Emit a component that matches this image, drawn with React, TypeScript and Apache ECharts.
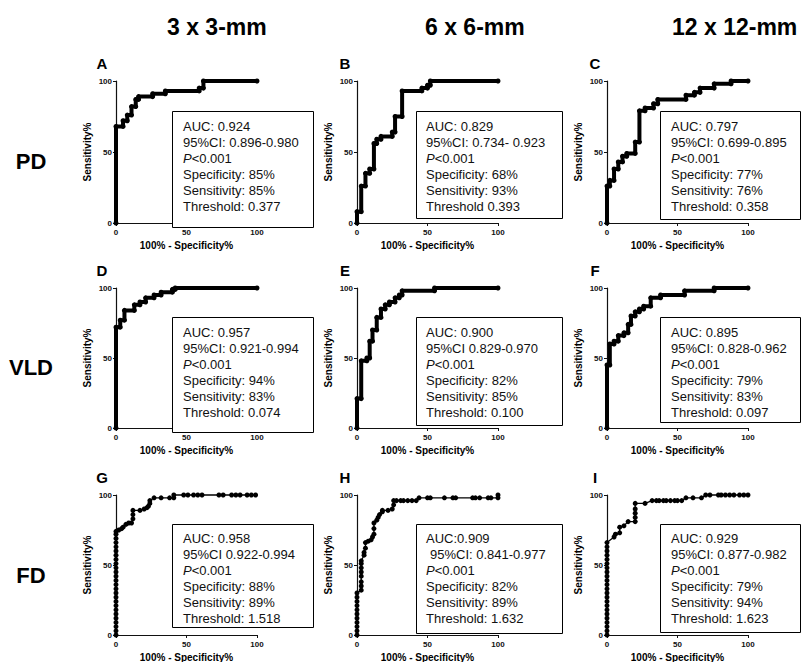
import React, { useEffect, useRef } from "react";
import * as echarts from "echarts";

const columnTitles = ["3 x 3-mm", "6 x 6-mm", "12 x 12-mm"];
const rowTitles = ["PD", "VLD", "FD"];
const panelLetters = ["A", "B", "C", "D", "E", "F", "G", "H", "I"];
const axisTickValues = [0, 50, 100];
const xAxisTitle = "100% - Specificity%";
const yAxisTitle = "Sensitivity%";

// ROC curves: [100% - Specificity%, Sensitivity%]
const rocA = [[0,0],[0,68],[5,68],[5,72],[8,72],[8,76],[11,76],[11,82],[14,82],[14,87],[16,87],[16,89],[26,89],[26,91],[35,91],[35,93],[59,93],[59,95],[62,95],[62,100],[100,100]];
const rocB = [[0,0],[0,8],[3,8],[3,26],[6,26],[6,35],[9,35],[9,38],[12,38],[12,56],[14,56],[14,59],[17,59],[17,61],[25,61],[25,64],[27,64],[27,75],[32,75],[32,93],[46,93],[46,95],[50,95],[50,97],[52,97],[52,100],[100,100]];
const rocC = [[0,0],[0,26],[2,26],[2,30],[5,30],[5,38],[8,38],[8,43],[11,43],[11,47],[14,47],[14,49],[20,49],[20,57],[23,57],[23,79],[27,79],[27,81],[33,81],[33,84],[36,84],[36,87],[56,87],[56,90],[62,90],[62,92],[66,92],[66,95],[76,95],[76,98],[88,98],[88,100],[100,100]];
const rocD = [[0,0],[0,72],[3,72],[3,77],[6,77],[6,84],[13,84],[13,88],[17,88],[17,90],[21,90],[21,93],[27,93],[27,95],[32,95],[32,97],[40,97],[40,99],[42,99],[42,100],[100,100]];
const rocE = [[0,0],[0,21],[3,21],[3,48],[7,48],[7,50],[9,50],[9,62],[11,62],[11,70],[14,70],[14,79],[17,79],[17,85],[20,85],[20,88],[23,88],[23,90],[27,90],[27,93],[30,93],[30,95],[32,95],[32,98],[55,98],[55,100],[100,100]];
const rocF = [[0,0],[0,45],[2,45],[2,60],[5,60],[5,62],[8,62],[8,66],[12,66],[12,68],[15,68],[15,74],[17,74],[17,80],[20,80],[20,83],[23,83],[23,85],[26,85],[26,87],[31,87],[31,93],[38,93],[38,95],[55,95],[55,98],[76,98],[76,100],[100,100]];
const rocG = [[0,0],[0,3],[0,6],[0,9],[0,12],[0,15],[0,18],[0,21],[0,24],[0,27],[0,30],[0,33],[0,36],[0,39],[0,42],[0,45],[0,48],[0,51],[0,54],[0,57],[0,60],[0,63],[0,66],[0,69],[0,72],[0,74],[2,75],[4,76],[5,77],[7,79],[9,80],[11,80],[12,83],[12,86],[12,89],[17,89],[20,90],[22,91],[23,92],[24,94],[24,96],[27,98],[32,98],[38,98],[41,98],[41,100],[48,100],[51,100],[55,100],[58,100],[61,100],[73,100],[76,100],[82,100],[85,100],[88,100],[93,100],[96,100],[99,100]];
const rocH = [[0,0],[0,3],[0,6],[0,9],[0,12],[0,15],[0,18],[0,21],[0,24],[0,27],[0,30],[3,32],[3,35],[3,38],[3,42],[3,45],[3,48],[3,51],[3,53],[5,57],[5,59],[6,62],[6,66],[8,67],[10,68],[11,70],[12,72],[12,76],[12,80],[14,82],[15,84],[16,86],[18,88],[18,89],[22,89],[25,90],[26,93],[26,96],[28,96],[31,96],[33,96],[36,96],[39,96],[42,96],[44,98],[50,98],[52,98],[62,98],[68,98],[70,98],[82,98],[84,98],[87,98],[93,98],[95,98],[100,98],[100,100]];
const rocI = [[0,0],[0,3],[0,6],[0,9],[0,12],[0,15],[0,18],[0,21],[0,24],[0,27],[0,30],[0,33],[0,36],[0,39],[0,42],[0,45],[0,48],[0,51],[0,54],[0,57],[0,60],[0,63],[0,66],[5,70],[6,72],[9,73],[9,77],[12,78],[15,81],[20,81],[20,84],[20,87],[20,90],[20,94],[27,94],[32,96],[35,96],[37,96],[40,96],[42,96],[45,96],[48,96],[50,96],[53,96],[56,98],[61,98],[67,98],[70,100],[73,100],[79,100],[81,100],[84,100],[87,100],[90,100],[94,100],[97,100],[100,100]];

const statsA = ["AUC: 0.924", "95%CI: 0.896-0.980", "P<0.001", "Specificity: 85%", "Sensitivity: 85%", "Threshold: 0.377"];
const statsB = ["AUC: 0.829", "95%CI: 0.734- 0.923", "P<0.001", "Specificity: 68%", "Sensitivity: 93%", "Threshold 0.393"];
const statsC = ["AUC: 0.797", "95%CI: 0.699-0.895", "P<0.001", "Specificity: 77%", "Sensitivity: 76%", "Threshold: 0.358"];
const statsD = ["AUC: 0.957", "95%CI: 0.921-0.994", "P<0.001", "Specificity: 94%", "Sensitivity: 83%", "Threshold: 0.074"];
const statsE = ["AUC: 0.900", "95%CI 0.829-0.970", "P<0.001", "Specificity: 82%", "Sensitivity: 85%", "Threshold: 0.100"];
const statsF = ["AUC: 0.895", "95%CI: 0.828-0.962", "P<0.001", "Specificity: 79%", "Sensitivity: 83%", "Threshold: 0.097"];
const statsG = ["AUC: 0.958", "95%CI 0.922-0.994", "P<0.001", "Specificity: 88%", "Sensitivity: 89%", "Threshold: 1.518"];
const statsH = ["AUC:0.909", " 95%CI: 0.841-0.977", "P<0.001", "Specificity: 82%", "Sensitivity: 89%", "Threshold: 1.632"];
const statsI = ["AUC: 0.929", "95%CI: 0.877-0.982", "P<0.001", "Specificity: 79%", "Sensitivity: 94%", "Threshold: 1.623"];

const rocData = [rocA, rocB, rocC, rocD, rocE, rocF, rocG, rocH, rocI];
const statsData = [statsA, statsB, statsC, statsD, statsE, statsF, statsG, statsH, statsI];

// layout (pixels)
const FONT = "'Liberation Sans', Arial, Helvetica, sans-serif";
const colX = [116, 357, 607];
const rowTop = [81, 288, 495];
const rowH = [142, 140, 140];
const plotW = 141;
const boxLeft = [172, 416, 660];
const boxRight = [313, 562, 800];
const textLeft = [183, 426, 671];
const boxTop = [111, 317, 524];
const boxBottom = [227, 218, 219, 432, 425, 422, 627, 633, 632];
const firstLine = [126, 332, 538];
const lineGap = 16;
const letterX = [102, 345, 595];
const letterY = [63, 270, 477];
const headX = [167, 425, 672];
const rowLabelY = [161, 367, 575];

export default function App() {
  const ref = useRef<HTMLDivElement>(null);
  useEffect(() => {
    if (!ref.current) return;
    const chart = echarts.init(ref.current, null, { renderer: "svg" });
    const grids: any[] = [];
    const xAxes: any[] = [];
    const yAxes: any[] = [];
    const series: any[] = [];
    const graphics: any[] = [];
    const axisCommon = {
      type: "value",
      min: axisTickValues[0],
      max: axisTickValues[2],
      interval: axisTickValues[1] - axisTickValues[0],
      axisLine: { show: true, onZero: false, lineStyle: { color: "#111", width: 1.2 } },
      axisTick: { show: true, length: 3, lineStyle: { color: "#111", width: 1 } },
      splitLine: { show: false },
      axisLabel: { fontSize: 8, fontWeight: "bold", color: "#111", margin: 5, fontFamily: FONT },
    };
    for (let i = 0; i < 9; i++) {
      const r = Math.floor(i / 3);
      const c = i % 3;
      grids.push({ left: colX[c], top: rowTop[r], width: plotW, height: rowH[r] });
      xAxes.push({ ...axisCommon, gridIndex: i });
      yAxes.push({ ...axisCommon, gridIndex: i, axisLabel: { ...axisCommon.axisLabel, margin: 4 } });
      const dense = r < 2;
      series.push({
        type: "line",
        xAxisIndex: i,
        yAxisIndex: i,
        data: rocData[i],
        clip: false,
        symbol: "circle",
        symbolSize: dense ? 5 : 5,
        showSymbol: true,
        lineStyle: { color: "#000", width: dense ? 4 : 1.3, cap: "round", join: "round" },
        itemStyle: { color: "#000" },
        z: 2,
      });
      graphics.push({
        type: "text", x: letterX[c], y: letterY[r], z: 100,
        style: { text: panelLetters[i], font: `bold 15px ${FONT}`, fill: "#000", align: "center", verticalAlign: "middle" },
      });
      graphics.push({
        type: "text", x: colX[c] - 29, y: rowTop[r] + rowH[r] / 2, rotation: Math.PI / 2, z: 100,
        style: { text: yAxisTitle, font: `bold 10px ${FONT}`, fill: "#000", align: "center", verticalAlign: "middle" },
      });
      graphics.push({
        type: "text", x: colX[c] + plotW / 2, y: rowTop[r] + rowH[r] + 22, z: 100,
        style: { text: xAxisTitle, font: `bold 10px ${FONT}`, fill: "#000", align: "center", verticalAlign: "middle" },
      });
      graphics.push({
        type: "rect", z: 100,
        shape: { x: boxLeft[c] + 0.5, y: boxTop[r] + 0.5, width: boxRight[c] - boxLeft[c], height: boxBottom[i] - boxTop[r] },
        style: { fill: "#fff", stroke: "#000", lineWidth: 1 },
      });
      statsData[i].forEach((line, k) => {
        let txt = line;
        let dx = 0;
        if (txt.startsWith(" ")) { dx = 4; txt = txt.trimStart(); }
        const isP = txt.startsWith("P<");
        graphics.push({
          type: "text", z: 101,
          x: textLeft[c] + dx, y: firstLine[r] + k * lineGap,
          style: {
            text: isP ? "{i|P}{n|" + txt.slice(1) + "}" : txt,
            font: `13px ${FONT}`,
            fill: "#111",
            align: "left",
            verticalAlign: "middle",
            rich: isP ? {
              i: { fontStyle: "italic", fontSize: 13, fontFamily: FONT, fill: "#111" },
              n: { fontSize: 13, fontFamily: FONT, fill: "#111" },
            } : undefined,
          },
        });
      });
    }
    columnTitles.forEach((t, c) => {
      graphics.push({
        type: "text", x: headX[c], y: 27, z: 100,
        style: { text: t, font: `bold 23px ${FONT}`, fill: "#000", align: "left", verticalAlign: "middle" },
      });
    });
    rowTitles.forEach((t, r) => {
      graphics.push({
        type: "text", x: 31, y: rowLabelY[r], z: 100,
        style: { text: t, font: `bold 22px ${FONT}`, fill: "#000", align: "center", verticalAlign: "middle" },
      });
    });
    chart.setOption({
      animation: false,
      backgroundColor: "#fff",
      grid: grids,
      xAxis: xAxes,
      yAxis: yAxes,
      series,
      graphic: { elements: graphics },
    });
    return () => chart.dispose();
  }, []);
  return <div ref={ref} style={{ position: "absolute", left: 0, top: 0, width: 801, height: 662, background: "#fff" }} />;
}
